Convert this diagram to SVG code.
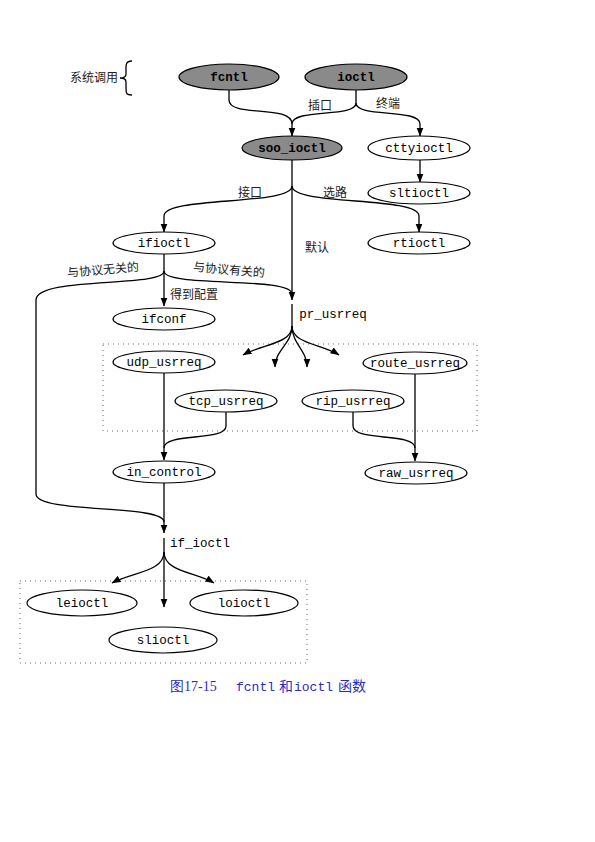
<svg xmlns="http://www.w3.org/2000/svg" width="595" height="842" viewBox="0 0 595 842">
<style>
.n{fill:#fff;stroke:#000;stroke-width:1.2}
.s{fill:#8a8a8a;stroke:#000;stroke-width:1.2}
.t{font-family:"Liberation Mono",monospace;font-size:12.5px;text-anchor:middle;fill:#000}
.tb{font-weight:bold}
.c{fill:none;stroke:#000;stroke-width:1.3}
.z{font-family:"Noto Sans CJK SC",sans-serif;font-size:12px;fill:#222}
.box{fill:none;stroke:#666;stroke-width:1;stroke-dasharray:1,4}
.cap{fill:#2a2ac8}
</style>
<defs>
<marker id="a" markerWidth="9" markerHeight="8" refX="8.5" refY="3.5" orient="auto" markerUnits="userSpaceOnUse">
<path d="M0,0 L9,3.5 L0,7 z" fill="#000"/>
</marker>
</defs>
<rect width="595" height="842" fill="#fff"/>
<g id="boxes">
<rect class="box" x="103" y="344" width="374" height="87"/>
<rect class="box" x="20" y="581" width="287" height="82"/>
</g>
<g id="syscall-label">
<text class="z" x="70" y="82">系统调用</text>
<path class="c" d="M132,61 C125,61 126,66 126,71 V74 C126,77 124,78 120,78 C124,78 126,79 126,82 V88 C126,93 126,95 132,95" stroke-width="1"/>
</g>
<g id="connectors">
<path class="c" d="M229,90 V100 C229,118 292,104 292,124 V136" marker-end="url(#a)"/>
<path class="c" d="M356,90 V103 C356,118 292,108 292,124"/>
<path class="c" d="M356,103 C356,118 420,108 420,124 V136" marker-end="url(#a)"/>
<path class="c" d="M420,160 V182" marker-end="url(#a)"/>
<path class="c" d="M292,160 V300" marker-end="url(#a)"/>
<path class="c" d="M292,186 C292,206 164,196 164,216 V232" marker-end="url(#a)"/>
<path class="c" d="M292,186 C292,206 419,196 419,216 V232" marker-end="url(#a)"/>
<path class="c" d="M164,253 V306" marker-end="url(#a)"/>
<path class="c" d="M164,271 C164,288 36,276 36,300 V494 C36,514 164,504 164,522"/>
<path class="c" d="M164,271 C164,288 292,276 292,294"/>
<path class="c" d="M292,304 V326"/>
<path class="c" d="M292,326 C292,344 262,344 243,355" marker-end="url(#a)"/>
<path class="c" d="M292,326 C292,344 275,350 275,367" marker-end="url(#a)"/>
<path class="c" d="M292,326 C292,344 307,350 307,367" marker-end="url(#a)"/>
<path class="c" d="M292,326 C292,344 322,344 339,355" marker-end="url(#a)"/>
<path class="c" d="M164,373 V460" marker-end="url(#a)"/>
<path class="c" d="M226,412 V426 C226,442 164,432 164,448"/>
<path class="c" d="M415,374 V461" marker-end="url(#a)"/>
<path class="c" d="M353,412 V426 C353,442 415,432 415,448"/>
<path class="c" d="M164,483 V533" marker-end="url(#a)"/>
<path class="c" d="M164,538 V552"/>
<path class="c" d="M164,552 C164,572 132,572 112,583" marker-end="url(#a)"/>
<path class="c" d="M164,552 V607" marker-end="url(#a)"/>
<path class="c" d="M164,552 C164,572 196,572 214,583" marker-end="url(#a)"/>
</g>
<g id="edge-labels">
<text class="z" x="308" y="110">插口</text>
<text class="z" x="376" y="108">终端</text>
<text class="z" x="238" y="197">接口</text>
<text class="z" x="323" y="197">选路</text>
<text class="z" x="305" y="252">默认</text>
<text class="z" x="67" y="274" transform="rotate(-5 103 270)">与协议无关的</text>
<text class="z" x="193" y="274" transform="rotate(5 229 270)">与协议有关的</text>
<text class="z" x="170" y="299">得到配置</text>
</g>
<g id="fcntl"><ellipse class="s" cx="229" cy="77" rx="50" ry="13"/><text class="t tb" x="229" y="81">fcntl</text></g>
<g id="ioctl"><ellipse class="s" cx="356" cy="77" rx="51" ry="13"/><text class="t tb" x="356" y="81">ioctl</text></g>
<g id="soo_ioctl"><ellipse class="s" cx="292" cy="148" rx="50" ry="12"/><text class="t tb" x="292" y="152">soo_ioctl</text></g>
<g id="cttyioctl"><ellipse class="n" cx="419" cy="148" rx="51" ry="12"/><text class="t" x="419" y="152">cttyioctl</text></g>
<g id="sltioctl"><ellipse class="n" cx="419" cy="193" rx="51" ry="11"/><text class="t" x="419" y="197">sltioctl</text></g>
<g id="ifioctl"><ellipse class="n" cx="164" cy="243" rx="51" ry="11"/><text class="t" x="164" y="247">ifioctl</text></g>
<g id="rtioctl"><ellipse class="n" cx="419" cy="243" rx="51" ry="11"/><text class="t" x="419" y="247">rtioctl</text></g>
<g id="ifconf"><ellipse class="n" cx="164" cy="319" rx="51" ry="11"/><text class="t" x="164" y="323">ifconf</text></g>
<g id="pr_usrreq"><text class="t" x="333" y="318">pr_usrreq</text></g>
<g id="udp_usrreq"><ellipse class="n" cx="164" cy="362" rx="51" ry="11"/><text class="t" x="164" y="366">udp_usrreq</text></g>
<g id="route_usrreq"><ellipse class="n" cx="415" cy="363" rx="52" ry="11"/><text class="t" x="415" y="367">route_usrreq</text></g>
<g id="tcp_usrreq"><ellipse class="n" cx="226" cy="401" rx="51" ry="11"/><text class="t" x="226" y="405">tcp_usrreq</text></g>
<g id="rip_usrreq"><ellipse class="n" cx="353" cy="401" rx="51" ry="11"/><text class="t" x="353" y="405">rip_usrreq</text></g>
<g id="in_control"><ellipse class="n" cx="164" cy="472" rx="51" ry="11"/><text class="t" x="164" y="476">in_control</text></g>
<g id="raw_usrreq"><ellipse class="n" cx="416" cy="473" rx="51" ry="11"/><text class="t" x="416" y="477">raw_usrreq</text></g>
<g id="if_ioctl"><text class="t" x="200" y="547">if_ioctl</text></g>
<g id="leioctl"><ellipse class="n" cx="82" cy="603" rx="55" ry="13"/><text class="t" x="82" y="607">leioctl</text></g>
<g id="loioctl"><ellipse class="n" cx="244" cy="603" rx="54" ry="13"/><text class="t" x="244" y="607">loioctl</text></g>
<g id="slioctl"><ellipse class="n" cx="163" cy="640" rx="54" ry="13"/><text class="t" x="163" y="644">slioctl</text></g>
<g id="caption">
<text class="cap" x="170" y="691" font-family="Liberation Serif,serif" font-size="14">图17-15</text>
<text class="cap" x="236" y="691" font-family="Liberation Mono,monospace" font-size="13">fcntl</text>
<text class="cap" x="279" y="691" font-family="Noto Sans CJK SC,sans-serif" font-size="14">和</text>
<text class="cap" x="294" y="691" font-family="Liberation Mono,monospace" font-size="13">ioctl</text>
<text class="cap" x="338" y="691" font-family="Noto Sans CJK SC,sans-serif" font-size="14">函数</text>
</g>
</svg>
